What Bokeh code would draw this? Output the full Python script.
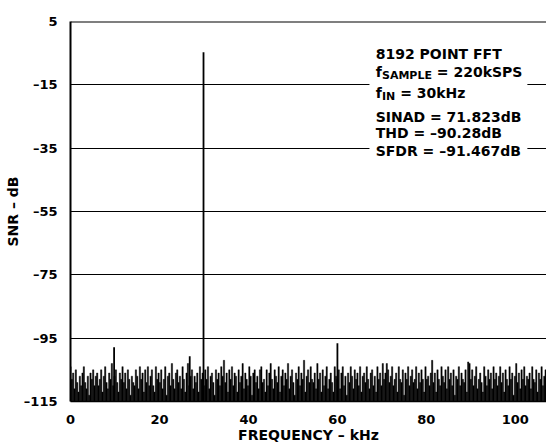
from bokeh.plotting import figure
from bokeh.models import Range1d, FixedTicker, Label, BoxAnnotation, Span
from bokeh.embed import file_html
from bokeh.resources import INLINE
import numpy as np

# ---- data ----
noise_db = [
    -104, -108, -106, -111, -105, -109, -112, -107, -110, -106, -104, -109, -111, -107, -113, -106, -108, -105, -110, -107,
    -106, -110, -108, -105, -112, -107, -104, -109, -111, -106, -108, -103, -110, -107, -105, -109, -112, -106, -108, -104,
    -109, -106, -111, -105, -108, -113, -107, -109, -110, -105, -107, -111, -104, -108, -106, -112, -105, -109, -104, -110,
    -107, -105, -110, -112, -104, -108, -106, -109, -105, -111, -108, -104, -113, -107, -106, -110, -103, -108, -111, -106,
    -105, -109, -107, -111, -104, -108, -112, -106, -103, -110, -107, -105, -111, -107, -109, -106, -112, -104, -108, -106,
    -110, -105, -108, -104, -111, -107, -106, -109, -113, -105, -108, -106, -110, -104, -107, -102, -109, -106, -112, -105,
    -108, -104, -110, -106, -107, -112, -105, -109, -107, -103, -111, -106, -108, -110, -104, -107, -113, -106, -105, -109,
    -107, -111, -105, -104, -109, -108, -112, -105, -110, -106, -103, -108, -111, -105, -107, -109, -104, -112, -107, -105,
    -110, -106, -108, -103, -111, -107, -105, -109, -113, -106, -108, -104, -110, -106, -108, -102, -112, -107, -105, -109,
    -104, -108, -109, -106, -111, -103, -108, -106, -112, -105, -110, -107, -104, -111, -108, -106, -109, -112, -104, -107,
    -108, -105, -111, -106, -104, -110, -107, -113, -106, -109, -104, -107, -111, -105, -108, -106, -110, -104, -112, -107,
    -106, -109, -104, -108, -111, -106, -105, -110, -107, -112, -104, -108, -106, -110, -103, -108, -106, -103, -105, -109,
    -107, -104, -110, -108, -106, -112, -104, -108, -109, -105, -113, -106, -108, -104, -110, -107, -105, -109, -108, -104,
    -111, -106, -109, -105, -108, -112, -104, -108, -107, -110, -106, -102, -109, -106, -112, -105, -108, -110, -104, -107,
    -109, -105, -111, -104, -108, -106, -110, -105, -113, -107, -108, -104, -110, -106, -108, -109, -105, -112, -102.5, -103,
    -108, -105, -110, -107, -104, -111, -108, -106, -109, -112, -104, -107, -110, -105, -108, -106, -111, -104, -108, -106,
    -110, -107, -104, -109, -106, -112, -105, -108, -110, -104, -108, -106, -113, -107, -103, -109, -106, -111, -105, -108,
    -104, -110, -107, -108, -106, -111, -104, -108, -109, -105, -112, -106, -108, -104, -110, -107, -105, -109, -108, -105,
]
bin_khz = 0.3
spur_khz = [9.8, 26.8, 29.9, 60.0]
spur_db = [-97.9, -100.7, -4.7, -96.6]

y_ticks = [5, -15, -35, -55, -75, -95, -115]
y_tick_labels = ["5", "\u201315", "\u201335", "\u201355", "\u201375", "\u201395", "\u2013115"]
x_ticks = [0, 20, 40, 60, 80, 100]

info_lines = [
    ("8192 POINT FFT", None, None),
    ("f", "SAMPLE", "= 220kSPS"),
    ("f", "IN", "= 30kHz"),
    ("SINAD = 71.823dB", None, None),
    ("THD = \u201390.28dB", None, None),
    ("SFDR = \u201391.467dB", None, None),
]
info_baselines = [-5.36, -11.1, -17.67, -25.06, -30.3, -35.8]

FLOOR = -115
freq = np.arange(len(noise_db)) * bin_khz

FONT = "DejaVu Sans"

p = figure(width=546, height=445, x_range=Range1d(0, 107), y_range=Range1d(-115, 5),
           output_backend="svg", toolbar_location=None,
           min_border_left=70, min_border_right=0, min_border_top=21, min_border_bottom=44)
p.outline_line_color = None
p.background_fill_color = "white"
p.border_fill_color = "white"

p.xgrid.visible = False
p.ygrid.ticker = FixedTicker(ticks=y_ticks)
p.ygrid.grid_line_color = "black"
p.ygrid.grid_line_width = 1

# noise floor as a dense filled spectrum
p.vbar(x=freq, top=noise_db, bottom=FLOOR, width=bin_khz,
       fill_color="black", line_color="black", line_width=0.4)
# discrete spurs and the fundamental
p.segment(x0=spur_khz, y0=[FLOOR] * len(spur_khz), x1=spur_khz, y1=spur_db,
          line_color="black", line_width=1.8)

p.add_layout(Span(location=5, dimension="width", line_color="black", line_width=2))

# y axis
p.yaxis.ticker = FixedTicker(ticks=y_ticks)
p.yaxis.major_label_overrides = {t: l for t, l in zip(y_ticks, y_tick_labels)}
p.yaxis.axis_label = "SNR \u2013 dB"
p.yaxis.axis_line_width = 2
p.yaxis.major_label_standoff = 7
p.yaxis.axis_label_standoff = 0

# x axis
p.xaxis.ticker = FixedTicker(ticks=x_ticks)
p.xaxis.axis_label = "FREQUENCY \u2013 kHz"
p.xaxis.axis_line_width = 1.5
p.xaxis.major_label_standoff = 7
p.xaxis.axis_label_standoff = 0

for ax in (p.xaxis, p.yaxis):
    ax.axis_line_color = "black"
    ax.major_tick_line_color = None
    ax.minor_tick_line_color = None
    ax.major_label_text_font = FONT
    ax.major_label_text_font_style = "bold"
    ax.major_label_text_font_size = "13px"
    ax.major_label_text_color = "black"
    ax.axis_label_text_font = FONT
    ax.axis_label_text_font_style = "bold"
    ax.axis_label_text_font_size = "14px"
    ax.axis_label_text_color = "black"

# white box behind the info text
p.add_layout(BoxAnnotation(left=67.2, right=102.7, top=-0.8, bottom=-36.6,
                           fill_color="white", fill_alpha=1, line_color=None))

x0 = 68.6
for (main, sub, rest), yb in zip(info_lines, info_baselines):
    p.add_layout(Label(x=x0, y=yb, text=main, text_font=FONT, text_font_style="bold",
                       text_font_size="14px", text_color="black", text_baseline="alphabetic"))
    if sub is not None:
        w_main = 6.3
        p.add_layout(Label(x=x0, y=yb, x_offset=w_main, y_offset=-3.5, text=sub, text_font=FONT,
                           text_font_style="bold", text_font_size="11px", text_color="black",
                           text_baseline="alphabetic"))
        w_sub = {"SAMPLE": 50.0, "IN": 13.3}[sub]
        p.add_layout(Label(x=x0, y=yb, x_offset=w_main + w_sub + 4.9, text=rest, text_font=FONT,
                           text_font_style="bold", text_font_size="14px", text_color="black",
                           text_baseline="alphabetic"))

open("out.html", "w").write(file_html(p, INLINE))
